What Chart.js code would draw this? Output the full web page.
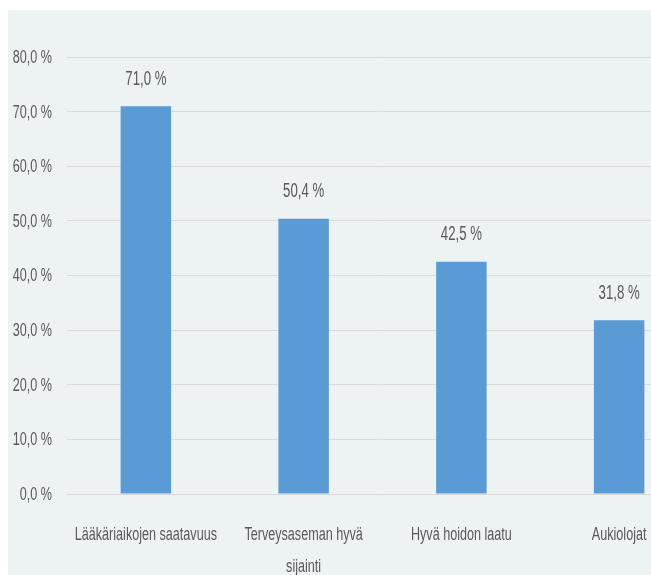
<!DOCTYPE html>
<html>
<head>
<meta charset="utf-8">
<script src="https://cdn.jsdelivr.net/npm/chart.js@4.4.1/dist/chart.umd.min.js"></script>
<style>
    html, body { margin: 0; padding: 0; background: #ffffff; overflow: hidden; width: 651px; height: 575px; }
    #panel { position: absolute; left: 8px; top: 10px; right: 0; bottom: 0; background: #edf2f3; }
    #wrap { position: absolute; left: 0; top: 0; width: 698px; height: 575px; }
</style>
</head>
<body>
<div id="panel"></div>
<div id="wrap"><canvas id="barChart" width="698" height="575"></canvas></div>
<script>
// Data (the original is cropped on the right)
const categories = [
    'Lääkäriaikojen saatavuus',
    ['Terveysaseman hyvä', 'sijainti'],
    'Hyvä hoidon laatu',
    'Aukiolojat'
];
const shares = [71.0, 50.4, 42.5, 31.8];
const yTicks = [0, 10, 20, 30, 40, 50, 60, 70, 80];

const textColor = '#595959';
const fontFamily = '"Liberation Sans", Arial, sans-serif';

function fmtPct(v) {
    return v.toFixed(1).replace('.', ',') + ' %';
}

// the source uses a tall narrow font, so text is drawn squeezed horizontally
function narrowText(ctx, text, x, y, size, sx, align) {
    ctx.save();
    ctx.font = size + 'px ' + fontFamily;
    ctx.fillStyle = textColor;
    ctx.textAlign = align;
    ctx.textBaseline = 'middle';
    ctx.translate(x, y);
    ctx.scale(sx, 1);
    ctx.fillText(text, 0, 0);
    ctx.restore();
}

const narrowLabels = {
    id: 'narrowLabels',
    afterDatasetsDraw(chart) {
        const ctx = chart.ctx;
        const xs = chart.scales.x;
        const ys = chart.scales.y;

        // y tick labels
        yTicks.forEach(v => {
            narrowText(ctx, fmtPct(v), ys.right - 15, ys.getPixelForValue(v) + 1, 18, 0.7, 'right');
        });

        // category labels, possibly two lines
        categories.forEach((lab, i) => {
            const lines = Array.isArray(lab) ? lab : [lab];
            lines.forEach((ln, k) => {
                narrowText(ctx, ln, xs.getPixelForTick(i), xs.top + 41 + k * 32, 18, 0.7, 'center');
            });
        });

        // value labels above bars
        chart.getDatasetMeta(0).data.forEach((bar, i) => {
            narrowText(ctx, fmtPct(shares[i]), bar.x, bar.y - 27, 20, 0.66, 'center');
        });
    }
};

const ctx = document.getElementById('barChart').getContext('2d');
new Chart(ctx, {
    type: 'bar',
    data: {
        labels: categories,
        datasets: [{
            data: shares,
            backgroundColor: '#5b9bd5',
            borderWidth: 0,
            barPercentage: 0.32,
            categoryPercentage: 1.0
        }]
    },
    options: {
        responsive: false,
        animation: false,
        layout: { padding: { top: 57, left: 0, right: 0, bottom: 0 } },
        plugins: {
            legend: { display: false },
            tooltip: { enabled: false }
        },
        scales: {
            x: {
                grid: { display: false, drawTicks: false },
                border: { display: false },
                ticks: { display: false },
                afterFit(scale) { scale.height = 81; }
            },
            y: {
                min: 0,
                max: 80,
                afterBuildTicks(scale) { scale.ticks = yTicks.map(v => ({ value: v })); },
                grid: { color: '#d9d9d9', lineWidth: 1, drawTicks: false },
                border: { display: false },
                ticks: { display: false },
                afterFit(scale) { scale.width = 67; }
            }
        }
    },
    plugins: [narrowLabels]
});
</script>
</body>
</html>
